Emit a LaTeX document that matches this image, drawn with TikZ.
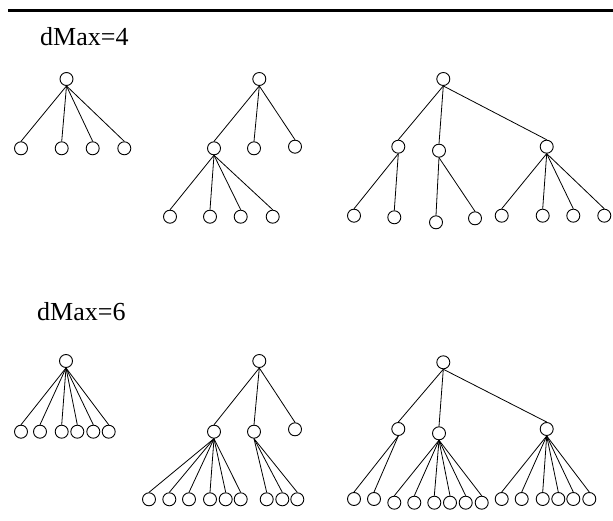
\documentclass[tikz,border=0pt]{standalone}
\usepackage{fontspec}
\setmainfont{Liberation Serif}
\begin{document}
\begin{tikzpicture}[x=1pt,y=-1pt,
  vtx/.style={circle,draw,line width=0.9pt,minimum size=13pt,inner sep=0pt},
  edge/.style={line width=0.8pt},
  lbl/.style={anchor=base west,inner sep=0pt,font=\fontsize{26}{30}\selectfont}]
\useasboundingbox (0,0) rectangle (613,521);
\coordinate (rl) at (8,10.5);
\coordinate (rr) at (613,10.5);
\draw[line width=3pt] (rl) -- (rr);
\node[lbl] (t4) at (40,45.5) {dMax=4};
\node[lbl] (t6) at (37,320) {dMax=6};

% ---- dMax=4, tree 1
\node[vtx] (a) at (66.5,79) {};
\foreach \i/\x in {1/21,2/61.7,3/92.7,4/124.3}{
  \node[vtx] (a\i) at (\x,148.3) {};
  \draw[edge] (a.south) -- (a\i.north);
}
% ---- dMax=4, tree 2
\node[vtx] (b) at (259.3,79) {};
\node[vtx] (b1) at (214,148.3) {};
\node[vtx] (b2) at (254,148.3) {};
\node[vtx] (b3) at (295,146.7) {};
\foreach \i in {1,2,3}{\draw[edge] (b.south) -- (b\i.north);}
\foreach \i/\x in {1/170,2/210,3/240.7,4/272.7}{
  \node[vtx] (b1\i) at (\x,216.7) {};
  \draw[edge] (b1.south) -- (b1\i.north);
}
% ---- dMax=4, tree 3
\node[vtx] (c) at (443.3,79) {};
\node[vtx] (c1) at (398.3,146.7) {};
\node[vtx] (c2) at (439,150.7) {};
\node[vtx] (c3) at (546.7,146.7) {};
\foreach \i in {1,2,3}{\draw[edge] (c.south) -- (c\i.north);}
\node[vtx] (c11) at (354,215.7) {};
\node[vtx] (c12) at (394.3,217.3) {};
\draw[edge] (c1.south) -- (c11.north);
\draw[edge] (c1.south) -- (c12.north);
\node[vtx] (c21) at (436,222.3) {};
\node[vtx] (c22) at (475,218.3) {};
\draw[edge] (c2.south) -- (c21.north);
\draw[edge] (c2.south) -- (c22.north);
\foreach \i/\x in {1/501.7,2/542.7,3/573.3,4/604.3}{
  \node[vtx] (c3\i) at (\x,215.7) {};
  \draw[edge] (c3.south) -- (c3\i.north);
}

% ---- dMax=6, tree 4
\node[vtx] (d) at (66,361) {};
\foreach \i/\x in {1/21,2/40,3/61.7,4/77.3,5/93.3,6/108.7}{
  \node[vtx] (d\i) at (\x,431.7) {};
  \draw[edge] (d.south) -- (d\i.north);
}
% ---- dMax=6, tree 5
\node[vtx] (e) at (259.3,361) {};
\node[vtx] (e1) at (214,431.7) {};
\node[vtx] (e2) at (254,431.7) {};
\node[vtx] (e3) at (295,429.3) {};
\foreach \i in {1,2,3}{\draw[edge] (e.south) -- (e\i.north);}
\foreach \i/\x in {1/149,2/169.3,3/189,4/210,5/225.7,6/240.7}{
  \node[vtx] (e1\i) at (\x,499.3) {};
  \draw[edge] (e1.south) -- (e1\i.north);
}
\foreach \i/\x in {1/266.7,2/282.3,3/297.3}{
  \node[vtx] (e2\i) at (\x,499.3) {};
  \draw[edge] (e2.south) -- (e2\i.north);
}
% ---- dMax=6, tree 6
\node[vtx] (f) at (443.3,362.3) {};
\node[vtx] (f1) at (398.3,429) {};
\node[vtx] (f2) at (439,433.3) {};
\node[vtx] (f3) at (546.7,429) {};
\foreach \i in {1,2,3}{\draw[edge] (f.south) -- (f\i.north);}
\foreach \i/\x in {1/354,2/374}{
  \node[vtx] (f1\i) at (\x,499) {};
  \draw[edge] (f1.south) -- (f1\i.north);
}
\foreach \i/\x in {1/394.3,2/414.3,3/434.3,4/450,5/465.7,6/481.7}{
  \node[vtx] (f2\i) at (\x,502.7) {};
  \draw[edge] (f2.south) -- (f2\i.north);
}
\foreach \i/\x in {1/501.7,2/521.7,3/542.7,4/558.3,5/573.3,6/589.3}{
  \node[vtx] (f3\i) at (\x,499) {};
  \draw[edge] (f3.south) -- (f3\i.north);
}
\end{tikzpicture}
\end{document}
